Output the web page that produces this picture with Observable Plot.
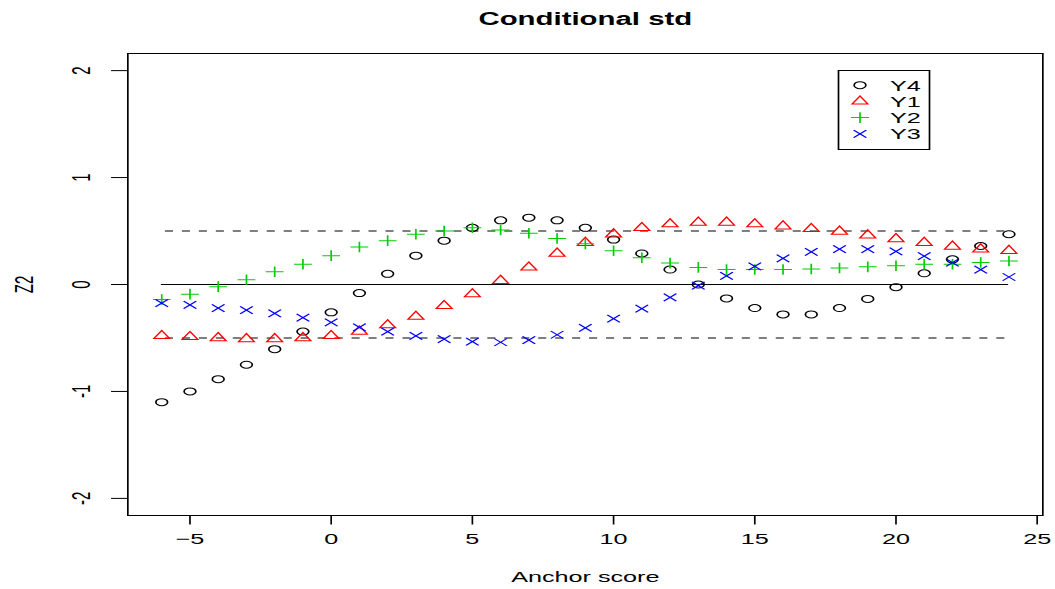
<!DOCTYPE html>
<html>
<head>
<meta charset="utf-8">
<script src="https://cdn.jsdelivr.net/npm/d3@7"></script>
<script src="https://cdn.jsdelivr.net/npm/@observablehq/plot@0.6"></script>
<style>
  html, body { margin: 0; padding: 0; background: #ffffff; }
  #chart { width: 1055px; height: 589px; overflow: hidden; }
</style>
</head>
<body>
<div id="chart"></div>
<script>
// ---------------- data ----------------
const anchorScores = [-6, -5, -4, -3, -2, -1, 0, 1, 2, 3, 4, 5, 6, 7, 8, 9, 10, 11, 12, 13, 14, 15, 16, 17, 18, 19, 20, 21, 22, 23, 24];

const Y4 = [-1.10, -1.00, -0.885, -0.75, -0.605, -0.44, -0.26, -0.08, 0.10, 0.27, 0.41, 0.53, 0.60, 0.625, 0.60, 0.53, 0.42, 0.29, 0.14, 0.00, -0.13, -0.22, -0.28, -0.28, -0.22, -0.135, -0.025, 0.105, 0.235, 0.36, 0.47];
const Y1 = [-0.48, -0.49, -0.50, -0.51, -0.51, -0.50, -0.48, -0.44, -0.38, -0.30, -0.20, -0.09, 0.035, 0.16, 0.29, 0.39, 0.47, 0.53, 0.565, 0.58, 0.58, 0.565, 0.545, 0.52, 0.495, 0.46, 0.425, 0.39, 0.355, 0.33, 0.315];
const Y2 = [-0.14, -0.09, -0.02, 0.044, 0.12, 0.19, 0.27, 0.35, 0.41, 0.47, 0.50, 0.53, 0.51, 0.48, 0.43, 0.38, 0.315, 0.25, 0.20, 0.16, 0.14, 0.14, 0.14, 0.145, 0.155, 0.165, 0.175, 0.19, 0.19, 0.205, 0.22];
const Y3 = [-0.175, -0.19, -0.22, -0.24, -0.27, -0.31, -0.355, -0.40, -0.44, -0.48, -0.51, -0.535, -0.54, -0.52, -0.47, -0.405, -0.32, -0.225, -0.12, -0.01, 0.08, 0.17, 0.245, 0.305, 0.33, 0.33, 0.31, 0.265, 0.205, 0.14, 0.07];

const seriesNames   = ["Y4", "Y1", "Y2", "Y3"];
const seriesColors  = ["#000000", "#FF0000", "#00CD00", "#0000FF"];
const seriesSymbols = ["circle", "triangle", "plus", "times"];

const xTicks = [-5, 0, 5, 10, 15, 20, 25];
const xTickLabels = ["\u22125", "0", "5", "10", "15", "20", "25"];
const yTicks = [-2, -1, 0, 1, 2];
const yTickLabels = ["-2", "-1", "0", "1", "2"];

const solidLevels = [0];
const dashedLevels = [-0.5, 0.5];
const refRange = [-6, 24];

const titleText = "Conditional std";
const xTitle = "Anchor score";
const yTitle = "Z2";

// ---------------- build ----------------
const seriesValues = {Y4, Y1, Y2, Y3};
const rows = seriesNames.flatMap(name =>
  anchorScores.map((x, i) => ({series: name, x, y: seriesValues[name][i]}))
);

// The reference was drawn narrow and stretched horizontally; reproduce that.
const OUT_W = 1055, OUT_H = 589;
const BASE_W = 628;
const SX = OUT_W / BASE_W;
const FONT = "'Liberation Sans', Arial, Helvetica, sans-serif";

const plot = Plot.plot({
  width: BASE_W,
  height: OUT_H,
  marginLeft: 127 / SX,
  marginRight: 13 / SX,
  marginTop: 53,
  marginBottom: 74,
  style: {fontFamily: FONT, fontSize: "15px", background: "#ffffff", color: "#000000"},
  x: {domain: [-7.2, 25.2], label: null},
  y: {domain: [-2.16, 2.16], label: null},
  color: {domain: seriesNames, range: seriesColors},
  symbol: {domain: seriesNames, range: seriesSymbols},
  marks: [
    Plot.frame({stroke: "#000000", strokeWidth: 1}),
    Plot.axisX({ticks: xTicks, tickSize: 9.5, tickFormat: () => "", label: null, stroke: "#000000"}),
    Plot.axisY({ticks: yTicks, tickSize: 9.5, tickFormat: () => "", label: null, stroke: "#000000"}),
    Plot.text(xTicks, {x: d => d, frameAnchor: "bottom", dy: 24, lineAnchor: "middle", text: (d, i) => xTickLabels[i], fontSize: 15, fill: "#000000"}),
    Plot.text(yTicks, {y: d => d, frameAnchor: "left", dx: -27.5, rotate: -90, text: (d, i) => yTickLabels[i], fontSize: 15, fill: "#000000", textAnchor: "middle", lineAnchor: "middle"}),
    Plot.text([xTitle], {frameAnchor: "bottom", dy: 61.5, lineAnchor: "middle", text: d => d, fontSize: 15, fill: "#000000"}),
    Plot.text([yTitle], {frameAnchor: "left", dx: -61, rotate: -90, text: d => d, fontSize: 15, fill: "#000000", textAnchor: "middle", lineAnchor: "middle"}),
    Plot.text([titleText], {frameAnchor: "top", dy: -34.5, lineAnchor: "middle", text: d => d, fontSize: 17.5, fontWeight: "bold", fill: "#000000"}),
    Plot.ruleY(solidLevels, {x1: refRange[0], x2: refRange[1], stroke: "#000000", strokeWidth: 1}),
    Plot.ruleY(dashedLevels, {x1: refRange[0], x2: refRange[1], stroke: "#000000", strokeWidth: 1, strokeDasharray: "4.8,5.3", strokeDashoffset: 7.7}),
    Plot.dot(rows, {x: "x", y: "y", symbol: "series", stroke: "series", r: 3.5, strokeWidth: 1, fill: "none"})
  ]
});

// Legend (in base coordinates, stretched with the rest)
const svg = d3.select(plot);
const lg = svg.append("g").attr("class", "legend").attr("text-anchor", "start");
lg.append("rect")
  .attr("x", 838.5 / SX).attr("y", 70.5)
  .attr("width", (929.5 - 838.5) / SX).attr("height", 79)
  .attr("fill", "#ffffff").attr("stroke", "#000000").attr("stroke-width", 1);
const symbolTypes = {circle: d3.symbolCircle, triangle: d3.symbolTriangle, plus: d3.symbolPlus, times: d3.symbolTimes};
const rowY = [85.2, 101.4, 117.6, 133.8];
seriesNames.forEach((name, i) => {
  lg.append("path")
    .attr("transform", `translate(${860 / SX},${rowY[i]})`)
    .attr("d", d3.symbol(symbolTypes[seriesSymbols[i]], Math.PI * 3.5 * 3.5)())
    .attr("fill", "none").attr("stroke", seriesColors[i]).attr("stroke-width", 1);
  lg.append("text")
    .attr("x", 890 / SX).attr("y", rowY[i]).attr("dy", "0.36em")
    .attr("text-anchor", "start")
    .attr("font-family", FONT).attr("font-size", 15).attr("fill", "#000000")
    .text(name);
});

plot.setAttribute("width", OUT_W);
plot.setAttribute("height", OUT_H);
plot.setAttribute("viewBox", `0 0 ${BASE_W} ${OUT_H}`);
plot.setAttribute("preserveAspectRatio", "none");
plot.style.width = OUT_W + "px";
plot.style.height = OUT_H + "px";
plot.style.maxWidth = "none";
plot.style.display = "block";

document.getElementById("chart").appendChild(plot);
</script>
</body>
</html>
